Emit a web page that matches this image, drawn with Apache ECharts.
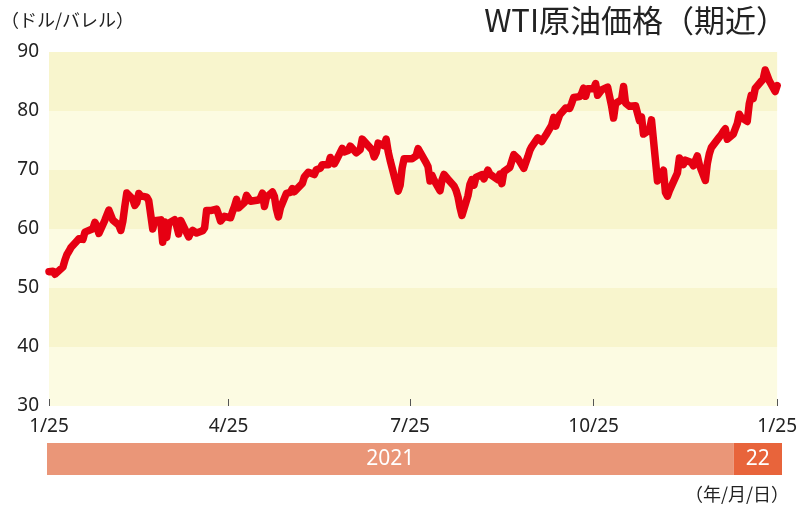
<!DOCTYPE html>
<html>
<head>
<meta charset="utf-8">
<script src="https://cdn.jsdelivr.net/npm/echarts@6/dist/echarts.min.js"></script>
<style>html,body{margin:0;padding:0;background:#fff;}#c{width:800px;height:508px;}</style>
</head>
<body>
<div id="c"></div>
<script>
var dates = ['2021-01-25','2021-01-26','2021-01-27','2021-01-28','2021-01-29','2021-02-01','2021-02-02','2021-02-03','2021-02-04','2021-02-05','2021-02-08','2021-02-09','2021-02-10','2021-02-11','2021-02-12','2021-02-16','2021-02-17','2021-02-18','2021-02-19','2021-02-22','2021-02-23','2021-02-24','2021-02-25','2021-02-26','2021-03-01','2021-03-02','2021-03-03','2021-03-04','2021-03-05','2021-03-08','2021-03-09','2021-03-10','2021-03-11','2021-03-12','2021-03-15','2021-03-16','2021-03-17','2021-03-18','2021-03-19','2021-03-22','2021-03-23','2021-03-24','2021-03-25','2021-03-26','2021-03-29','2021-03-30','2021-03-31','2021-04-01','2021-04-05','2021-04-06','2021-04-07','2021-04-08','2021-04-09','2021-04-12','2021-04-13','2021-04-14','2021-04-15','2021-04-16','2021-04-19','2021-04-20','2021-04-21','2021-04-22','2021-04-23','2021-04-26','2021-04-27','2021-04-28','2021-04-29','2021-04-30','2021-05-03','2021-05-04','2021-05-05','2021-05-06','2021-05-07','2021-05-10','2021-05-11','2021-05-12','2021-05-13','2021-05-14','2021-05-17','2021-05-18','2021-05-19','2021-05-20','2021-05-21','2021-05-24','2021-05-25','2021-05-26','2021-05-27','2021-05-28','2021-06-01','2021-06-02','2021-06-03','2021-06-04','2021-06-07','2021-06-08','2021-06-09','2021-06-10','2021-06-11','2021-06-14','2021-06-15','2021-06-16','2021-06-17','2021-06-18','2021-06-21','2021-06-22','2021-06-23','2021-06-24','2021-06-25','2021-06-28','2021-06-29','2021-06-30','2021-07-01','2021-07-02','2021-07-06','2021-07-07','2021-07-08','2021-07-09','2021-07-12','2021-07-13','2021-07-14','2021-07-15','2021-07-16','2021-07-19','2021-07-20','2021-07-21','2021-07-22','2021-07-23','2021-07-26','2021-07-27','2021-07-28','2021-07-29','2021-07-30','2021-08-02','2021-08-03','2021-08-04','2021-08-05','2021-08-06','2021-08-09','2021-08-10','2021-08-11','2021-08-12','2021-08-13','2021-08-16','2021-08-17','2021-08-18','2021-08-19','2021-08-20','2021-08-23','2021-08-24','2021-08-25','2021-08-26','2021-08-27','2021-08-30','2021-08-31','2021-09-01','2021-09-02','2021-09-03','2021-09-07','2021-09-08','2021-09-09','2021-09-10','2021-09-13','2021-09-14','2021-09-15','2021-09-16','2021-09-17','2021-09-20','2021-09-21','2021-09-22','2021-09-23','2021-09-24','2021-09-27','2021-09-28','2021-09-29','2021-09-30','2021-10-01','2021-10-04','2021-10-05','2021-10-06','2021-10-07','2021-10-08','2021-10-11','2021-10-12','2021-10-13','2021-10-14','2021-10-15','2021-10-18','2021-10-19','2021-10-20','2021-10-21','2021-10-22','2021-10-25','2021-10-26','2021-10-27','2021-10-28','2021-10-29','2021-11-01','2021-11-02','2021-11-03','2021-11-04','2021-11-05','2021-11-08','2021-11-09','2021-11-10','2021-11-11','2021-11-12','2021-11-15','2021-11-16','2021-11-17','2021-11-18','2021-11-19','2021-11-22','2021-11-23','2021-11-24','2021-11-26','2021-11-29','2021-11-30','2021-12-01','2021-12-02','2021-12-03','2021-12-06','2021-12-07','2021-12-08','2021-12-09','2021-12-10','2021-12-13','2021-12-14','2021-12-15','2021-12-16','2021-12-17','2021-12-20','2021-12-21','2021-12-22','2021-12-23','2021-12-27','2021-12-28','2021-12-29','2021-12-30','2021-12-31','2022-01-03','2022-01-04','2022-01-05','2022-01-06','2022-01-07','2022-01-10','2022-01-11','2022-01-12','2022-01-13','2022-01-14','2022-01-18','2022-01-19','2022-01-20','2022-01-21','2022-01-24','2022-01-25'];
var prices = [52.77,52.61,52.85,52.34,52.20,53.55,54.76,55.69,56.23,56.85,57.97,58.36,58.68,58.24,59.47,60.05,61.14,60.52,59.24,61.49,61.67,63.22,63.53,61.50,60.64,59.75,61.28,63.83,66.09,65.05,64.01,64.44,66.02,65.61,65.39,64.80,64.60,60.00,61.42,61.55,57.76,61.18,58.56,60.97,61.56,60.55,59.16,61.45,58.65,59.33,59.77,59.60,59.32,59.70,60.18,63.15,63.46,63.13,63.38,62.44,61.35,61.43,62.14,61.91,62.94,63.86,65.01,63.58,64.49,65.69,65.63,64.71,64.90,64.92,65.28,66.08,63.82,65.37,66.27,65.49,63.36,62.05,63.58,66.05,66.07,66.21,66.85,66.32,67.72,68.83,68.81,69.62,69.23,70.05,69.96,70.29,70.91,70.88,72.12,72.15,71.04,71.64,73.66,73.06,73.08,73.30,74.05,72.91,72.98,73.47,75.23,75.16,73.37,72.20,72.94,74.56,74.10,75.25,73.13,71.65,71.81,66.42,67.42,70.30,71.91,72.07,71.91,71.65,72.39,73.62,73.95,71.26,70.56,68.15,69.09,68.28,66.48,68.29,69.25,69.09,68.44,67.29,66.59,65.46,63.69,62.32,65.64,67.54,68.36,67.42,68.74,69.21,68.50,68.59,69.99,69.29,68.35,69.30,67.68,69.72,70.45,70.46,72.61,72.61,71.97,70.29,70.56,72.23,73.30,73.98,75.45,75.29,74.83,75.03,75.88,77.62,78.93,77.43,77.47,79.35,80.52,80.64,80.44,81.31,82.28,82.44,82.96,83.87,82.50,83.76,83.76,84.65,82.66,82.81,83.57,84.05,83.91,80.86,78.81,81.27,81.93,84.15,81.34,81.59,80.79,80.88,80.76,78.36,79.01,76.10,76.75,78.50,78.39,68.15,69.95,66.18,65.57,66.50,66.26,69.49,72.05,72.36,70.94,71.67,71.29,70.73,70.87,72.38,70.86,68.23,71.12,72.76,73.79,75.57,75.98,76.56,76.99,75.21,76.08,76.99,77.85,79.46,78.90,78.23,81.22,82.64,82.12,83.82,85.43,86.96,86.90,85.14,83.31,84.30];

var tickDates = ['2021-01-25','2021-04-25','2021-07-25','2021-10-25','2022-01-25'];
var tickLabels = ['1/25','4/25','7/25','10/25','1/25'];
var yearLabels = ['2021','22'];
var yearStarts = ['2021-01-25','2022-01-01'];
var yearEnds = ['2022-01-01','2022-01-25'];
var yearColors = ['#ea9678','#e8643b'];

var FONT = '"Noto Sans", sans-serif';
var JP = '"Noto Sans CJK JP", sans-serif';

var DAY = 86400000;
function ts(s){ var p=s.split('-'); return Math.round(Date.UTC(+p[0], +p[1]-1, +p[2]) / DAY); }
var tickTs = tickDates.map(ts);
var seriesData = dates.map(function(d,i){ return [ts(d), prices[i]]; });
var xMin = tickTs[0], xMax = tickTs[tickTs.length-1];

var chart = echarts.init(document.getElementById('c'), null, {renderer:'canvas'});
chart.setOption({
  animation: false,
  backgroundColor: '#fff',
  title: [
    {text: 'WTI原油価格（期近）', right: 8, top: 0, textStyle: {fontFamily: JP, fontSize: 31, fontWeight: 'normal', color: '#222'}},
    {text: '（ドル/バレル）', left: -4, top: 6, textStyle: {fontFamily: JP, fontSize: 18, fontWeight: 'normal', color: '#222'}},
    {text: '（年/月/日）', right: 6, top: 480, textStyle: {fontFamily: JP, fontSize: 18, fontWeight: 'normal', color: '#222'}}
  ],
  grid: [
    {left: 49, right: 18, top: 52, bottom: 102},
    {left: 47, right: 18, top: 443, height: 32}
  ],
  xAxis: [
    {
      type: 'value', gridIndex: 0, min: xMin, max: xMax,
      axisLine: {show: false},
      axisTick: {show: true, inside: true, length: 7, lineStyle: {color: '#555', width: 1}, customValues: tickTs},
      axisLabel: {
        customValues: tickTs, margin: 11, fontFamily: FONT, fontSize: 19, color: '#222',
        formatter: function(v){ var i = tickTs.indexOf(v); return i >= 0 ? tickLabels[i] : ''; },
        showMinLabel: true, showMaxLabel: true
      },
      splitLine: {show: false}
    },
    {
      type: 'value', gridIndex: 1, min: xMin, max: xMax, show: false
    }
  ],
  yAxis: [
    {
      type: 'value', gridIndex: 0, min: 30, max: 90, interval: 10,
      axisLine: {show: false}, axisTick: {show: false},
      axisLabel: {margin: 10, fontFamily: FONT, fontSize: 19, color: '#222'},
      splitLine: {show: false},
      splitArea: {show: true, areaStyle: {color: ['#fcfbe2', '#f8f5cd']}}
    },
    {type: 'value', gridIndex: 1, min: 0, max: 1, show: false}
  ],
  series: [
    {
      type: 'line', xAxisIndex: 0, yAxisIndex: 0, data: seriesData,
      symbol: 'none', smooth: false,
      lineStyle: {color: '#e60012', width: 7.5, cap: 'round', join: 'round'}
    },
    {
      type: 'line', xAxisIndex: 1, yAxisIndex: 1, data: [], symbol: 'none',
      markArea: {
        silent: true,
        label: {show: true, position: 'inside', color: '#fff', fontFamily: FONT, fontSize: 21},
        data: yearLabels.map(function(n, i){
          return [{name: n, xAxis: ts(yearStarts[i]), itemStyle: {color: yearColors[i], opacity: 1}}, {xAxis: ts(yearEnds[i])}];
        })
      }
    }
  ]
});
</script>
</body>
</html>
